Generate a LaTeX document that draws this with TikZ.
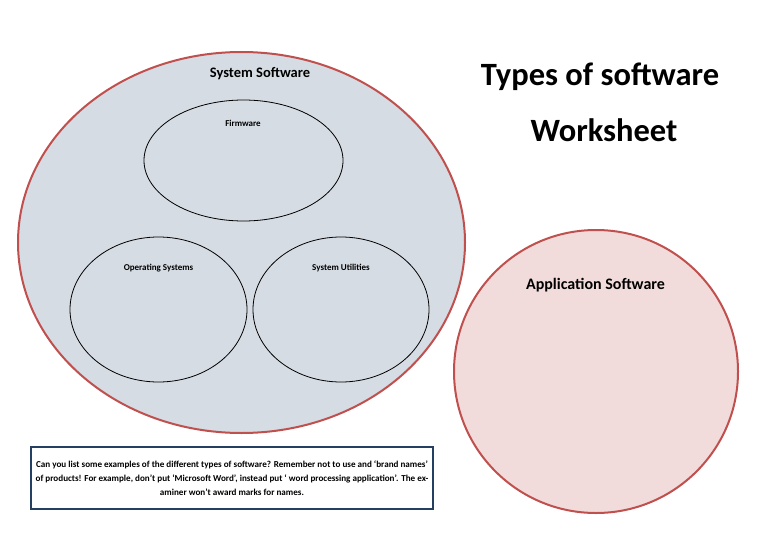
\documentclass[tikz,border=0pt]{standalone}
\usepackage{fontspec}
\setmainfont{Carlito}
\usetikzlibrary{shapes.geometric}
\definecolor{sysfill}{HTML}{D6DCE4}
\definecolor{appfill}{HTML}{F2DCDB}
\definecolor{redline}{HTML}{C0504D}
\definecolor{boxline}{HTML}{243F60}
\tikzset{
  oval/.style={ellipse, inner sep=0pt, draw, line width=0.8pt},
  bigoval/.style={ellipse, inner sep=0pt, draw=redline, line width=2pt},
  lbl/.style={font=\bfseries, inner sep=0pt, anchor=center},
  small/.style={font=\bfseries\fontsize{9}{11}\selectfont},
  title/.style={font=\bfseries\fontsize{32.5}{38}\selectfont},
}
\begin{document}
\begin{tikzpicture}[x=1pt,y=-1pt]
\useasboundingbox (0,0) rectangle (768,543);
% System software
\node[bigoval, fill=sysfill, minimum width=447pt, minimum height=381pt] (sys) at (241.5,242.5) {};
\node[lbl, font=\bfseries\fontsize{14.5}{17}\selectfont] (syst) at (260,74) {System Software};
\node[oval, minimum width=199pt, minimum height=121pt] (fw) at (243.5,160.5) {};
\node[lbl, small] (fwt) at (243,123) {Firmware};
\node[oval, minimum width=177pt, minimum height=145pt] (os) at (158.5,309.5) {};
\node[lbl, small] (ost) at (158.5,268) {Operating Systems};
\node[oval, minimum width=176pt, minimum height=145pt] (su) at (341,309.5) {};
\node[lbl, small] (sut) at (341,268) {System Utilities};
% Application software
\node[bigoval, fill=appfill, minimum width=284pt, minimum height=283pt] (app) at (596,371.5) {};
\node[lbl, font=\bfseries\fontsize{16}{19}\selectfont] (appt) at (595.5,285) {Application Software};
% Title
\node[lbl, title] (t1) at (600,77) {Types of software};
\node[lbl, title] (t2) at (604,130) {Worksheet};
% Box
\node[draw=boxline, line width=1.8pt, minimum width=402pt, minimum height=62pt, inner sep=0pt] (box) at (232,478) {};
\node[lbl, font=\bfseries\fontsize{9.1}{14}\selectfont, align=center] (boxt) at (232,478.5)
{Can you list some examples of the different types of software? Remember not to use and ‘brand names’\\
of products! For example, don’t put ‘Microsoft Word’, instead put ‘ word processing application’. The ex-\\
aminer won’t award marks for names.};
\end{tikzpicture}
\end{document}
